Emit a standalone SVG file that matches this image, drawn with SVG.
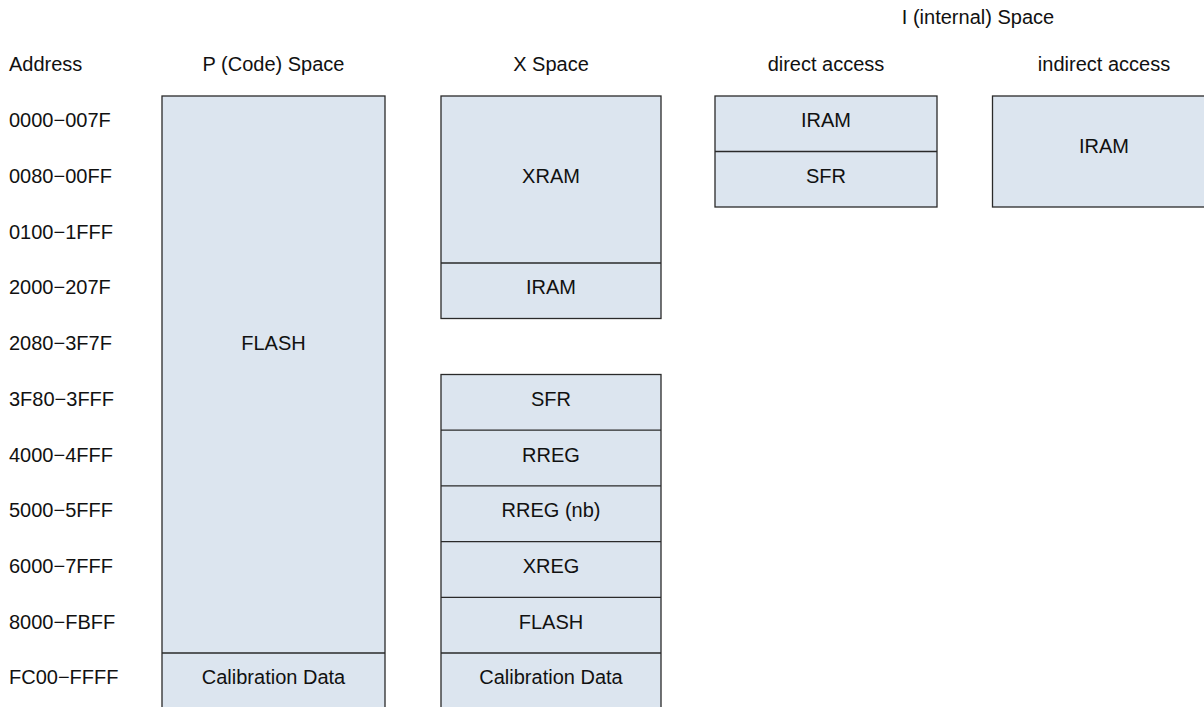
<svg xmlns="http://www.w3.org/2000/svg" width="1204" height="707" viewBox="0 0 1204 707">
<style>
text{font-family:"Liberation Sans",Arial,sans-serif;font-size:20px;fill:#111}
.c{text-anchor:middle}
.b{fill:#dce5ef;stroke:#2a2a2a;stroke-width:1.3}
.d{stroke:#2a2a2a;stroke-width:1.3;fill:none}
</style>
<rect width="1204" height="707" fill="#fff"/>
<g id="headers">
<text x="978" y="24" class="c">I (internal) Space</text>
<text x="9" y="71">Address</text>
<text x="273.5" y="71" class="c">P (Code) Space</text>
<text x="551" y="71" class="c">X Space</text>
<text x="826" y="71" class="c">direct access</text>
<text x="1104" y="71" class="c">indirect access</text>
</g>
<g id="addresses">
<text x="9" y="127">0000−007F</text>
<text x="9" y="183">0080−00FF</text>
<text x="9" y="239">0100−1FFF</text>
<text x="9" y="294">2000−207F</text>
<text x="9" y="350">2080−3F7F</text>
<text x="9" y="406">3F80−3FFF</text>
<text x="9" y="462">4000−4FFF</text>
<text x="9" y="517">5000−5FFF</text>
<text x="9" y="573">6000−7FFF</text>
<text x="9" y="629">8000−FBFF</text>
<text x="9" y="684">FC00−FFFF</text>
</g>
<g id="p-space">
<rect class="b" x="162" y="96" width="223" height="614"/>
<line class="d" x1="162" y1="653" x2="385" y2="653"/>
<text x="273.5" y="350" class="c">FLASH</text>
<text x="273.5" y="684" class="c">Calibration Data</text>
</g>
<g id="x-space-upper">
<rect class="b" x="441" y="96" width="220" height="222.5"/>
<line class="d" x1="441" y1="263" x2="661" y2="263"/>
<text x="551" y="183" class="c">XRAM</text>
<text x="551" y="294" class="c">IRAM</text>
</g>
<g id="x-space-lower">
<rect class="b" x="441" y="374.5" width="220" height="336"/>
<line class="d" x1="441" y1="430.2" x2="661" y2="430.2"/>
<line class="d" x1="441" y1="485.9" x2="661" y2="485.9"/>
<line class="d" x1="441" y1="541.6" x2="661" y2="541.6"/>
<line class="d" x1="441" y1="597.3" x2="661" y2="597.3"/>
<line class="d" x1="441" y1="653" x2="661" y2="653"/>
<text x="551" y="406" class="c">SFR</text>
<text x="551" y="462" class="c">RREG</text>
<text x="551" y="517" class="c">RREG (nb)</text>
<text x="551" y="573" class="c">XREG</text>
<text x="551" y="629" class="c">FLASH</text>
<text x="551" y="684" class="c">Calibration Data</text>
</g>
<g id="i-direct">
<rect class="b" x="715" y="96" width="222" height="111"/>
<line class="d" x1="715" y1="151.5" x2="937" y2="151.5"/>
<text x="826" y="127" class="c">IRAM</text>
<text x="826" y="183" class="c">SFR</text>
</g>
<g id="i-indirect">
<rect class="b" x="992.5" y="96" width="222" height="111"/>
<text x="1104" y="153" class="c">IRAM</text>
</g>
<g id="connectors"></g>
</svg>
